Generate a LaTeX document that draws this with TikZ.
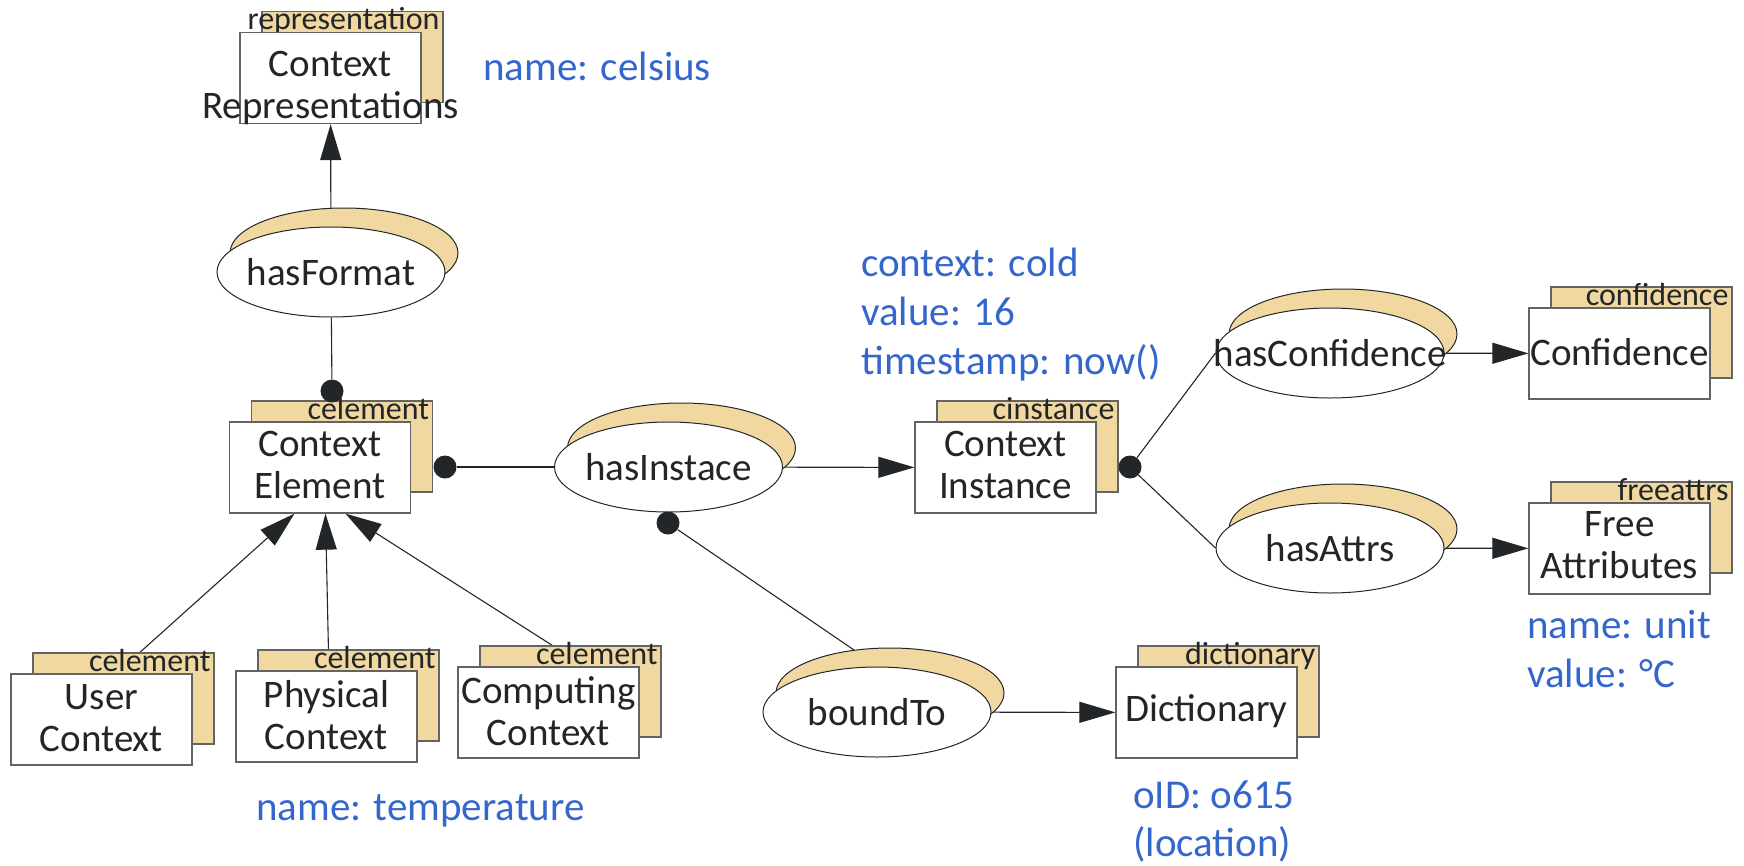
\documentclass[tikz,border=0pt]{standalone}
\usepackage{fontspec}
\setmainfont{Carlito}
\usetikzlibrary{shapes.geometric,arrows.meta,calc,backgrounds}
\definecolor{beige}{RGB}{240,216,160}
\definecolor{ink}{RGB}{35,38,40}
\definecolor{blu}{RGB}{52,102,204}
\definecolor{boxline}{RGB}{100,100,100}
\tikzset{
  frontbox/.style={draw=boxline, line width=1.3pt, fill=white, minimum width=181pt, minimum height=91pt, inner sep=0pt},
  backbox/.style={frontbox, fill=beige},
  tagtext/.style={font=\fontsize{32}{34}\selectfont, text=ink, inner sep=0pt, anchor=base east},
  boxtext/.style={font=\fontsize{39}{42}\selectfont, text=ink, align=center, inner sep=0pt},
  relfront/.style={ellipse, draw=ink, line width=1pt, fill=white, minimum width=228pt, minimum height=90pt, inner sep=0pt},
  relback/.style={relfront, fill=beige},
  dot/.style={circle, fill=ink, minimum size=23pt, inner sep=0pt},
  conn/.style={draw=ink, line width=1.1pt},
  arr/.style={conn, -{Triangle[length=36pt,width=21pt]}},
  note/.style={font=\fontsize{41}{49}\selectfont, text=blu, inner sep=0pt, anchor=base west},
}
\newcommand\cbox[6]{%
  \node[backbox] (#1-b) at ({#2+22},{#3-21}) {};
  \node[tagtext] (#1-tag) at ($(#1-b.north east)+(-4,19)$) {#4};
  \node[frontbox] (#1) at (#2,#3) {};
  \node[boxtext] (#1-txt) at (#2,#6) {#5};
}
\newcommand\relnode[4]{%
  \node[relback] (#1-b) at ({#2+13},{#3-19}) {};
  \node[relfront] (#1) at (#2,#3) {};
  \node[boxtext] (#1-txt) at (#2,#3) {#4};
}
\begin{document}
\begin{tikzpicture}[x=1pt,y=-1pt]
\useasboundingbox (0,0) rectangle (1744,865);
% boxes
\cbox{cr}{330.5}{78}{representation}{Context\\Representations}{88}
\cbox{ce}{320}{467.5}{celement}{Context\\Element}{464.5}
\cbox{ci}{1005.5}{467.5}{cinstance}{Context\\Instance}{464.5}
\cbox{conf}{1619.5}{353.5}{confidence}{Confidence}{352}
\cbox{fa}{1619.5}{548.5}{freeattrs}{Free\\Attributes}{545.5}
\cbox{dict}{1206.5}{712.5}{dictionary}{Dictionary}{711}
\cbox{uc}{101.5}{719.5}{celement}{User\\Context}{718}
\cbox{pc}{326.5}{716.5}{celement}{Physical\\Context}{715}
\cbox{cc}{548.5}{712.5}{celement}{Computing\\Context}{711}
% relations
\relnode{hf}{331}{272}{hasFormat}
\relnode{hi}{668.5}{467}{hasInstace}
\relnode{hc}{1330}{353}{hasConfidence}
\relnode{ha}{1330}{548}{hasAttrs}
\relnode{bt}{877}{712}{boundTo}
% dots
\node[dot] (d-ce-top) at (332,391) {};
\node[dot] (d-ce-r) at (445,467) {};
\node[dot] (d-hi) at (668,523) {};
\node[dot] (d-ci) at (1130,467) {};
% connectors
\begin{pgfonlayer}{background}
\draw[arr] (hf) -- (cr);
\draw[conn] (hf) -- (d-ce-top);
\draw[conn] (d-ce-r) -- (hi);
\draw[arr] (hi) -- (ci);
\draw[conn] (d-hi) -- (bt-b.130);
\draw[arr] (bt) -- (dict);
\draw[conn] (d-ci) -- (hc.west);
\draw[conn] (d-ci) -- (ha.west);
\draw[arr] (hc) -- (conf);
\draw[arr] (ha) -- (fa);
\draw[arr] ($(uc-b.north west)!0.59!(uc-b.north east)$) -- ($(ce.south west)!0.36!(ce.south east)$);
\draw[arr] ($(pc-b.north west)!0.39!(pc-b.north east)$) -- ($(ce.south west)!0.53!(ce.south east)$);
\draw[arr] ($(cc-b.north west)!0.40!(cc-b.north east)$) -- ($(ce.south west)!0.64!(ce.south east)$);
\end{pgfonlayer}
% notes
\node[note] (n1) at (483,80) {name: celsius};
\node[note] (n2a) at (861,276) {context: cold};
\node[note] (n2b) at (861,325) {value: 16};
\node[note] (n2c) at (861,374) {timestamp: now()};
\node[note] (n3) at (256,820) {name: temperature};
\node[note] (n4a) at (1527,638) {name: unit};
\node[note] (n4b) at (1527,687) {value: °C};
\node[note] (n5a) at (1133,808) {oID: o615};
\node[note] (n5b) at (1133,856) {(location)};
\end{tikzpicture}
\end{document}
